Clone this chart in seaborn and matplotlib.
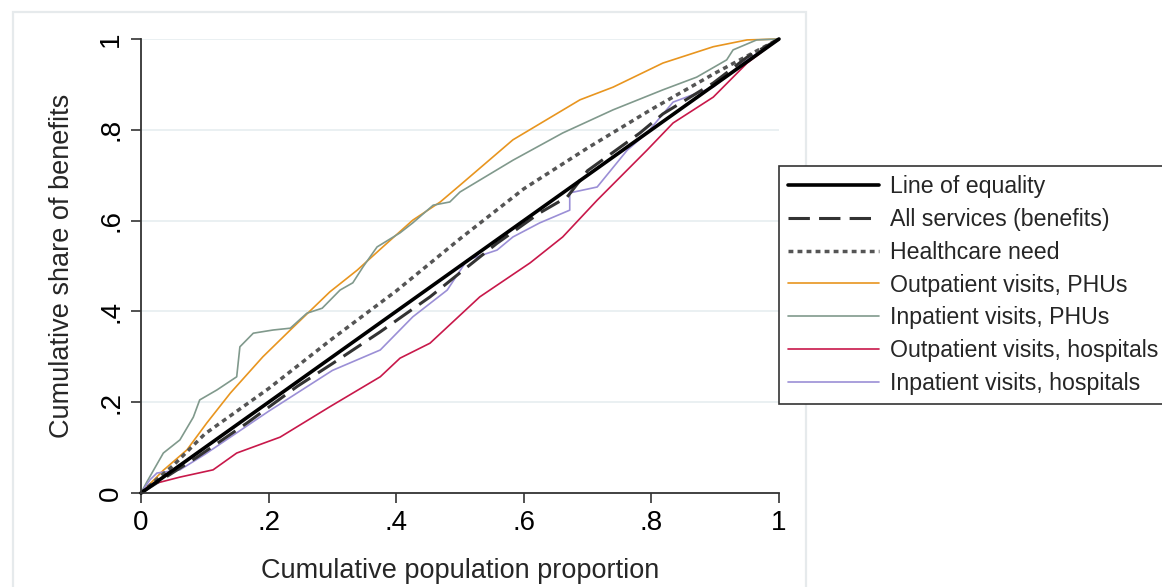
import numpy as np
import pandas as pd
import seaborn as sns
import matplotlib.pyplot as plt
from matplotlib.patches import Rectangle
from matplotlib.lines import Line2D

# cumulative population share (x) and cumulative share of benefits (y)
equal_x = [0, 1]
equal_y = [0, 1]

all_x = [0, .05, .088, .166, .245, .3, .375, .453, .5, .558, .625, .668, .7, .782, .818, .897, .95, 1]
all_y = [0, .045, .079, .154, .235, .285, .355, .432, .485, .55, .617, .652, .71, .793, .835, .903, .96, 1]

need_x = [0, .05, .1, .2, .3, .4, .5, .6, .7, .8, .9, 1]
need_y = [0, .06, .13, .23, .34, .445, .56, .67, .76, .845, .925, 1]

opd_phu_x = [0, .035, .072, .103, .14, .191, .234, .296, .339, .379, .426, .469, .5, .583, .688, .74, .818, .897, .95, 1]
opd_phu_y = [0, .05, .095, .154, .22, .30, .359, .443, .491, .542, .601, .641, .678, .778, .866, .894, .947, .983, .998, 1]

ipd_phu_x = [0, .009, .035, .061, .082, .092, .119, .150, .155, .176, .207, .234, .26, .284, .312, .332, .348, .37,
             .406, .426, .458, .484, .50, .583, .661, .74, .818, .871, .918, .928, .965, 1]
ipd_phu_y = [0, .024, .088, .117, .167, .205, .227, .256, .322, .352, .359, .363, .396, .407, .447, .463, .498, .542,
             .573, .595, .634, .641, .663, .733, .793, .844, .888, .916, .954, .976, .998, 1]

opd_hosp_x = [0, .014, .025, .061, .113, .15, .218, .296, .375, .406, .453, .531, .61, .661, .715, .793, .834, .897, .95, 1]
opd_hosp_y = [0, .013, .022, .035, .051, .088, .123, .19, .256, .297, .33, .432, .507, .564, .645, .755, .815, .872, .947, 1]

ipd_hosp_x = [0, .014, .025, .061, .1, .2, .3, .375, .426, .48, .511, .558, .583, .625, .672, .672, .715, .762, .793,
              .834, .897, .95, 1]
ipd_hosp_y = [0, .029, .044, .051, .085, .18, .27, .315, .388, .447, .513, .535, .564, .595, .623, .661, .674, .755, .793,
              .861, .894, .954, 1]

labels = ["Line of equality", "All services (benefits)", "Healthcare need",
          "Outpatient visits, PHUs", "Inpatient visits, PHUs",
          "Outpatient visits, hospitals", "Inpatient visits, hospitals"]

sns.set_style("white")
plt.rcParams['font.family'] = ['Liberation Sans', 'DejaVu Sans']

fig = plt.figure(figsize=(11.62, 5.87), dpi=100)
ax = fig.add_axes([141 / 1162, 1 - 493 / 587, 638 / 1162, 454 / 587])

# light graph-region frame
fig.patches.append(Rectangle((13 / 1162, -0.1), 793 / 1162, 1.1 - 12 / 587, transform=fig.transFigure,
                             fill=False, edgecolor='#e6eaec', lw=1.6, zorder=0))

colors = ['black', '#333333', '#555555', '#e8951f', '#80998c', '#c8184a', '#9b8fd6']
styles = [dict(lw=2.6), dict(lw=2.2, dashes=(7, 3)), dict(lw=2.5, dashes=(1.4, 1.2)),
          dict(lw=1.2), dict(lw=1.2), dict(lw=1.2), dict(lw=1.2)]

series = [(opd_phu_x, opd_phu_y, 3), (ipd_phu_x, ipd_phu_y, 4), (opd_hosp_x, opd_hosp_y, 5),
          (ipd_hosp_x, ipd_hosp_y, 6), (need_x, need_y, 2), (all_x, all_y, 1), (equal_x, equal_y, 0)]
for xs, ys, i in series:
    sns.lineplot(x=xs, y=ys, ax=ax, color=colors[i], estimator=None, sort=False, clip_on=False, **styles[i])

ax.set_xlim(0, 1)
ax.set_ylim(0, 1)
ticks = [0, .2, .4, .6, .8, 1]
ticklabels = ["0", ".2", ".4", ".6", ".8", "1"]
ax.set_xticks(ticks)
ax.set_xticklabels(ticklabels)
ax.set_yticks(ticks)
ax.set_yticklabels(ticklabels, rotation=90, va='center')
ax.tick_params(axis='both', labelsize=20, length=7, width=1.2, color='#333333', direction='out', pad=5)
ax.tick_params(axis='both', which='both', bottom=True, left=True)
for t in ax.get_xticklabels() + ax.get_yticklabels():
    t.set_color('black')
for s in ['top', 'right']:
    ax.spines[s].set_visible(False)
for s in ['left', 'bottom']:
    ax.spines[s].set_color('#333333')
    ax.spines[s].set_linewidth(1.3)
ax.set_axisbelow(True)
for t in ticks[1:]:
    ax.axhline(t, color='#e6eef0', lw=1.2, zorder=0)

ax.set_xlabel("Cumulative population proportion", fontsize=19.5, labelpad=16)
ax.set_ylabel("Cumulative share of benefits", fontsize=19.5, labelpad=17)

handles = [Line2D([], [], color=colors[i], **styles[i]) for i in range(7)]
leg = fig.legend(handles, labels, loc='upper left', bbox_to_anchor=(779 / 1162, 1 - 166 / 587),
                 fontsize=16.7, handlelength=3.9, handletextpad=0.5, labelspacing=0.42,
                 frameon=True, fancybox=False, framealpha=1, borderpad=0.4, borderaxespad=0)
leg.get_frame().set_edgecolor('#333333')
leg.get_frame().set_linewidth(1.2)

fig.savefig("out.png", dpi=100)
